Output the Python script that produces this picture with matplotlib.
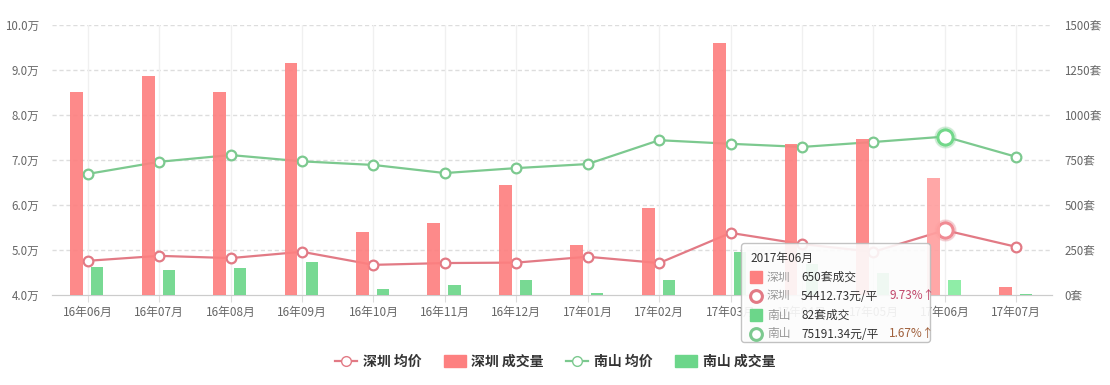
import numpy as np
import matplotlib
matplotlib.use("Agg")
import matplotlib.pyplot as plt
from matplotlib.lines import Line2D
from matplotlib.patches import Patch, FancyBboxPatch

plt.rcParams['font.family'] = ['Noto Sans CJK SC', 'DejaVu Sans']

# 数据
months = ["16年06月", "16年07月", "16年08月", "16年09月", "16年10月", "16年11月", "16年12月",
          "17年01月", "17年02月", "17年03月", "17年04月", "17年05月", "17年06月", "17年07月"]
sz_price = [4.76, 4.87, 4.82, 4.96, 4.67, 4.71, 4.72, 4.85, 4.71, 5.38, 5.13, 4.96, 5.44, 5.07]  # 万元/平
ns_price = [6.69, 6.96, 7.11, 6.97, 6.89, 6.71, 6.82, 6.91, 7.44, 7.36, 7.29, 7.40, 7.52, 7.07]
sz_volume = [1128, 1217, 1128, 1289, 350, 400, 611, 278, 483, 1400, 839, 867, 650, 44]  # 套
ns_volume = [156, 139, 150, 183, 33, 56, 83, 11, 83, 239, 170, 122, 82, 4]
left_ticks = [4.0, 5.0, 6.0, 7.0, 8.0, 9.0, 10.0]
right_ticks = [0, 250, 500, 750, 1000, 1250, 1500]
hl = 12  # 悬停的月份

RED_BAR = "#fd8080"
GREEN_BAR = "#6cd68a"
RED_LINE = "#e27a85"
GREEN_LINE = "#7cc98f"
GRAY = "#666666"

fig = plt.figure(figsize=(11.1, 3.85), dpi=100)
ax = fig.add_axes([52 / 1110, 1 - 295 / 385, 1000 / 1110, 270 / 385])
ax2 = ax.twinx()

x = np.arange(len(months))

# 价格折线 (左轴)
ax.set_zorder(ax2.get_zorder() + 1)
ax.patch.set_visible(False)
ax.plot(x, sz_price, color=RED_LINE, lw=1.6, marker="o", ms=7, mfc="white",
        mec=RED_LINE, mew=1.6, zorder=2)
ax.plot(x, ns_price, color=GREEN_LINE, lw=1.6, marker="o", ms=7, mfc="white",
        mec=GREEN_LINE, mew=1.6, zorder=2)
# 高亮点
ax.plot(x[hl], sz_price[hl], "o", ms=15, color=RED_LINE, alpha=0.25, zorder=2)
ax.plot(x[hl], sz_price[hl], "o", ms=11, mfc="white", mec="#f08a93", mew=2.2, zorder=2)
ax.plot(x[hl], ns_price[hl], "o", ms=15, color=GREEN_LINE, alpha=0.25, zorder=2)
ax.plot(x[hl], ns_price[hl], "o", ms=11, mfc="white", mec="#72d88a", mew=2.2, zorder=2)

# 成交量柱 (右轴刻度) - 画在 ax 上方便放在折线上层
scale = (10.0 - 4.0) / 1500
sz_col = [RED_BAR] * len(months)
ns_col = [GREEN_BAR] * len(months)
sz_col[hl] = "#ffa0a0"
ns_col[hl] = "#86eca0"
ax.bar(x - 0.155, [v * scale for v in sz_volume], width=0.18, bottom=4.0,
       color=sz_col, alpha=0.92, zorder=3)
ax.bar(x + 0.135, [v * scale for v in ns_volume], width=0.17, bottom=4.0,
       color=ns_col, alpha=0.92, zorder=3)

ax.set_xlim(-0.5, len(months) - 0.5)
ax.set_ylim(4.0, 10.0)
ax2.set_ylim(0, 1500)
ax.set_yticks(left_ticks)
ax.set_yticklabels([f"{t:.1f}万" for t in left_ticks])
ax2.set_yticks(right_ticks)
ax2.set_yticklabels([f"{t}套" for t in right_ticks])
ax.set_xticks(x)
ax.set_xticklabels(months)

for a in (ax, ax2):
    for s in ("top", "left", "right"):
        a.spines[s].set_visible(False)
    a.spines["bottom"].set_color("#cccccc")
ax.tick_params(axis="y", length=0, pad=9, labelsize=8.3, labelcolor=GRAY)
ax2.tick_params(axis="y", length=0, pad=9, labelsize=8.3, labelcolor=GRAY)
ax.tick_params(axis="x", length=5, color="#dddddd", pad=3, labelsize=8.5, labelcolor=GRAY)

# 网格
for t in left_ticks[1:]:
    ax.axhline(t, color="#dddddd", lw=1, ls=(0, (3, 2)), zorder=0)
for xi in x:
    ax.axvline(xi, color="#f0f0f0", lw=1, zorder=0)

# 图例
handles = [
    Line2D([], [], color=RED_LINE, lw=1.6, marker="o", ms=7, mfc="white", mec=RED_LINE),
    Patch(color=RED_BAR),
    Line2D([], [], color=GREEN_LINE, lw=1.6, marker="o", ms=7, mfc="white", mec=GREEN_LINE),
    Patch(color=GREEN_BAR),
]
labels = ["深圳 均价", "深圳 成交量", "南山 均价", "南山 成交量"]
leg = fig.legend(handles, labels, loc="center", bbox_to_anchor=(0.5, 1 - 362 / 385), ncol=4,
                 frameon=False, fontsize=10, handlelength=1.6, handleheight=0.9,
                 columnspacing=1.6, handletextpad=0.4)
for t in leg.get_texts():
    t.set_fontweight("bold")
    t.set_color("#333333")

# 提示框
tip = fig.add_axes([741 / 1110, 1 - 345 / 385, 191 / 1110, 102 / 385])
tip.set_zorder(10)
tip.set_xlim(0, 191)
tip.set_ylim(102, 0)
tip.axis("off")
tip.add_patch(FancyBboxPatch((3, 3), 186, 97, boxstyle="round,pad=0,rounding_size=3",
                             fc="#aaaaaa", ec="none", alpha=0.25, clip_on=False))
tip.add_patch(FancyBboxPatch((0.5, 0.5), 189, 99, boxstyle="round,pad=0,rounding_size=3",
                             fc="white", ec="#bbbbbb", lw=1, alpha=0.88, clip_on=False))
fs = 8.5
tip.text(9, 15, months[hl].replace("17年", "2017年"), fontsize=fs, color="#333333", va="center")
rows = [
    ("sq", RED_BAR, "深圳", f"{sz_volume[hl]}套成交", "", None),
    ("ci", RED_LINE, "深圳", "54412.73元/平", "9.73%↑", "#c0466a"),
    ("sq", GREEN_BAR, "南山", f"{ns_volume[hl]}套成交", "", None),
    ("ci", GREEN_LINE, "南山", "75191.34元/平", "1.67%↑", "#a0603c"),
]
for i, (kind, col, name, val, pct, pcol) in enumerate(rows):
    yy = 34 + i * 19
    if kind == "sq":
        tip.add_patch(plt.Rectangle((9, yy - 6), 12, 12, color=col))
    else:
        tip.plot(15, yy, "o", ms=8.5, mfc="white", mec=col, mew=2.2)
    tip.text(26, yy, name, fontsize=fs, color="#999999", va="center")
    tip.text(60, yy, val, fontsize=fs, color="#333333", va="center")
    if pct:
        tip.text(148, yy, pct, fontsize=fs, color=pcol, va="center")

fig.savefig("out.png", dpi=100)
